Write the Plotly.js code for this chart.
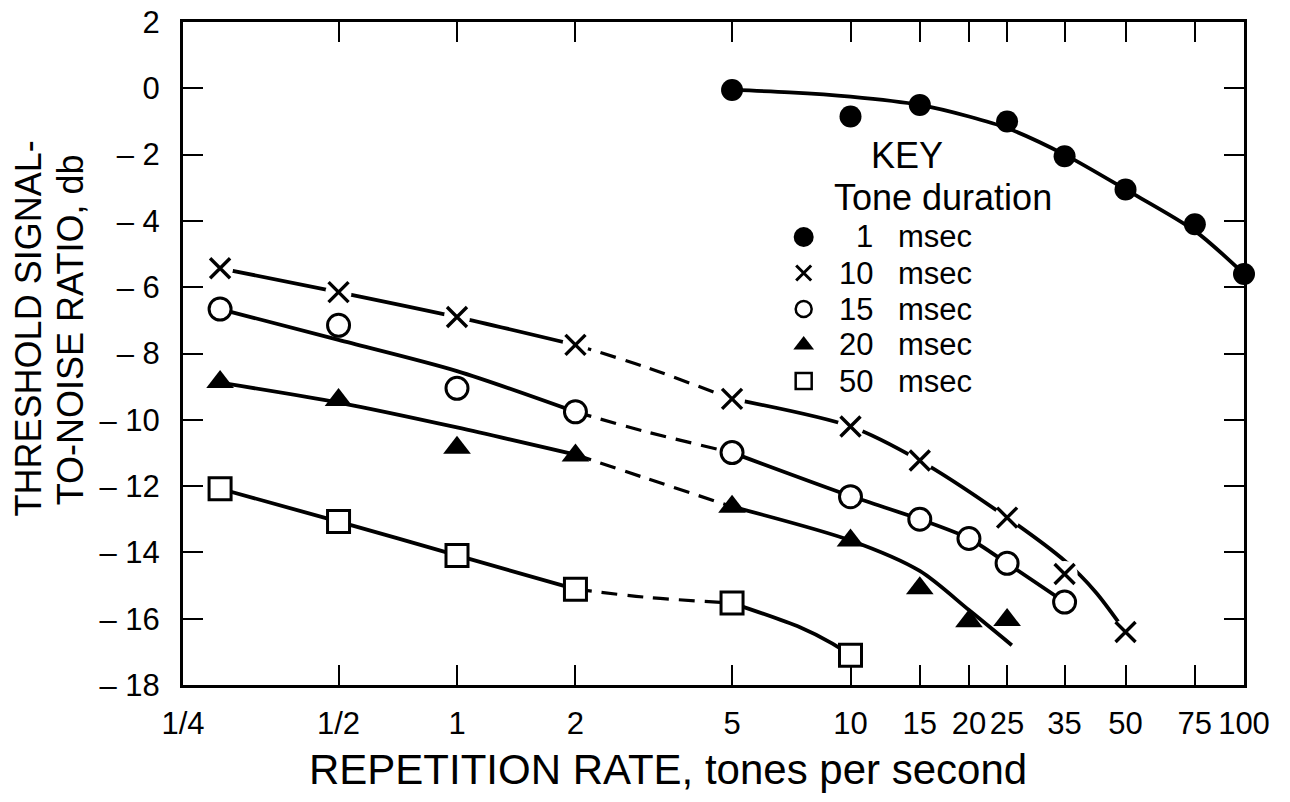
<!DOCTYPE html>
<html>
<head>
<meta charset="utf-8">
<script src="https://cdn.plot.ly/plotly-3.0.1.min.js"></script>
<style>
  html, body { margin: 0; padding: 0; background: #fff; }
  #chart { width: 1290px; height: 802px; }
</style>
</head>
<body>
<div id="chart"></div>
<script>
// ---------------- data ----------------
// Repetition rate (tones per second) and threshold S/N (db)
const rate1  = [5, 10, 15, 25, 35, 50, 75, 100];
const snr1   = [-0.05, -0.85, -0.5, -1.0, -2.05, -3.05, -4.1, -5.6];

const rate10 = [0.25, 0.5, 1, 2, 5, 10, 15, 25, 35, 50];
const snr10  = [-5.43, -6.15, -6.9, -7.74, -9.37, -10.2, -11.23, -12.95, -14.65, -16.4];

const rate15 = [0.25, 0.5, 1, 2, 5, 10, 15, 20, 25, 35];
const snr15  = [-6.66, -7.15, -9.05, -9.76, -10.99, -12.32, -13.0, -13.58, -14.33, -15.5];

const rate20 = [0.25, 0.5, 1, 2, 5, 10, 15, 20, 25];
const snr20  = [-8.86, -9.4, -10.84, -11.08, -12.62, -13.64, -15.08, -16.08, -16.04];

const rate50 = [0.25, 0.5, 1, 2, 5, 10];
const snr50  = [-12.08, -13.07, -14.09, -15.11, -15.53, -17.1];

// hand-drawn fitted curves (solid left part, dashed bridge, solid right part)
const fit1X  = [5, 7, 10, 15, 20, 25, 35, 50, 75, 100];
const fit1Y  = [-0.05, -0.12, -0.25, -0.5, -0.85, -1.2, -2.0, -3.05, -4.3, -5.6];

const fit10LX = [0.25, 0.5, 1, 2];
const fit10LY = [-5.43, -6.15, -6.9, -7.74];
const fit10DX = [2, 3, 5];
const fit10DY = [-7.74, -8.4, -9.37];
const fit10RX = [5, 10, 15, 25, 35, 42, 50];
const fit10RY = [-9.37, -10.2, -11.23, -12.95, -14.25, -15.2, -16.4];

const fit15LX = [0.25, 0.5, 1, 2];
const fit15LY = [-6.66, -7.59, -8.53, -9.76];
const fit15DX = [2, 3, 5];
const fit15DY = [-9.76, -10.35, -10.99];
const fit15RX = [5, 10, 15, 20, 25, 35];
const fit15RY = [-10.99, -12.3, -13.0, -13.58, -14.33, -15.5];

const fit20LX = [0.25, 0.5, 1, 2];
const fit20LY = [-8.88, -9.48, -10.23, -11.05];
const fit20DX = [2, 3, 5];
const fit20DY = [-11.05, -11.75, -12.62];
const fit20RX = [5, 10, 15, 20, 25.7];
const fit20RY = [-12.62, -13.64, -14.56, -15.74, -16.8];

const fit50LX = [0.25, 0.5, 1, 2];
const fit50LY = [-12.08, -13.07, -14.09, -15.11];
const fit50DX = [2, 3, 5];
const fit50DY = [-15.11, -15.35, -15.53];
const fit50RX = [5, 7.44, 9.0, 10];
const fit50RY = [-15.53, -16.26, -16.75, -17.1];

// axis ticks
const xTickLabels = ["1/4", "1/2", "1", "2", "5", "10", "15", "20", "25", "35", "50", "75", "100"];
const xTickValues = [null, 0.5, 1, 2, 5, 10, 15, 20, 25, 35, 50, 75, 100]; // first = axis start
const yTickValues = [2, 0, -2, -4, -6, -8, -10, -12, -14, -16, -18];
const yTickLabels = ["2", "0", "\u2013\u00a02", "\u2013\u00a04", "\u2013\u00a06", "\u2013\u00a08", "\u2013\u00a010",
                     "\u2013\u00a012", "\u2013\u00a014", "\u2013\u00a016", "\u2013\u00a018"];

// key
const keyNumbers = ["1", "10", "15", "20", "50"];
const keyUnit = "msec";

// ---------------- styles ----------------
const FONT = "Liberation Sans, Arial, sans-serif";
const BLACK = "#000";
const XLOG_MIN = -0.6963, XLOG_MAX = 2;
xTickValues[0] = Math.pow(10, XLOG_MIN);

const symbolStyles = [
  {symbol: "circle", size: 22, color: BLACK, line: {width: 0}},
  {symbol: "x-thin-open", size: 20, color: BLACK, line: {width: 3.4, color: BLACK}},
  {symbol: "circle", size: 22, color: "#fff", line: {width: 3, color: BLACK}},
  {symbol: "triangle-up", size: 24, color: BLACK, line: {width: 0}},
  {symbol: "square", size: 22, color: "#fff", line: {width: 3, color: BLACK}}
];
const keyStyles = [
  {symbol: "circle", size: 20, color: BLACK, line: {width: 0}},
  {symbol: "x-thin-open", size: 15, color: BLACK, line: {width: 3, color: BLACK}},
  {symbol: "circle", size: 16, color: "#fff", line: {width: 2.5, color: BLACK}},
  {symbol: "triangle-up", size: 18, color: BLACK, line: {width: 0}},
  {symbol: "square", size: 16, color: "#fff", line: {width: 2.5, color: BLACK}}
];

function curve(x, y, dash) {
  return {x: x, y: y, type: "scatter", mode: "lines", hoverinfo: "skip", showlegend: false,
          line: {color: BLACK, width: dash ? 3.2 : 3.8, shape: "spline", smoothing: 0.8,
                 dash: dash ? "16px,10px" : "solid"}};
}
function points(x, y, st) {
  return {x: x, y: y, type: "scatter", mode: "markers", showlegend: false, hoverinfo: "skip",
          cliponaxis: false,
          marker: {symbol: st.symbol, size: st.size, color: st.color, line: st.line}};
}

const traces = [
  curve(fit1X, fit1Y, false),
  curve(fit10LX, fit10LY, false), curve(fit10DX, fit10DY, true), curve(fit10RX, fit10RY, false),
  curve(fit15LX, fit15LY, false), curve(fit15DX, fit15DY, true), curve(fit15RX, fit15RY, false),
  curve(fit20LX, fit20LY, false), curve(fit20DX, fit20DY, true), curve(fit20RX, fit20RY, false),
  curve(fit50LX, fit50LY, false), curve(fit50DX, fit50DY, true), curve(fit50RX, fit50RY, false),
  // white halo behind the x markers (gaps in the line)
  points(rate10, snr10, {symbol: "circle", size: 26, color: "#fff", line: {width: 0}}),
  points(rate1, snr1, symbolStyles[0]),
  points(rate10, snr10, symbolStyles[1]),
  points(rate15, snr15, symbolStyles[2]),
  points(rate20, snr20, symbolStyles[3]),
  points(rate50, snr50, symbolStyles[4])
];

// key symbols on an invisible overlay axis (0..1 = plot area)
const PLOT_H = 663;
const keyX = 0.585, keyTop = (685 - 237) / PLOT_H, keyStep = 36 / PLOT_H;
keyNumbers.forEach((n, i) => {
  const s = keyStyles[i];
  traces.push({x: [keyX], y: [keyTop - i * keyStep], xaxis: "x2", yaxis: "y2", type: "scatter",
               mode: "markers", showlegend: false, hoverinfo: "skip", cliponaxis: false,
               marker: {symbol: s.symbol, size: s.size, color: s.color, line: s.line}});
});

const annotations = [
  {text: "THRESHOLD SIGNAL-", textangle: -90, x: -0.1460, y: 0.538, xref: "paper", yref: "paper",
   showarrow: false, font: {family: FONT, size: 36, color: BLACK}, xanchor: "center", yanchor: "middle"},
  {text: "TO-NOISE RATIO, db", textangle: -90, x: -0.1065, y: 0.535, xref: "paper", yref: "paper",
   showarrow: false, font: {family: FONT, size: 36, color: BLACK}, xanchor: "center", yanchor: "middle"},
  {text: "REPETITION RATE, tones per second", x: 0.457, y: -0.128, xref: "paper", yref: "paper",
   showarrow: false, font: {family: FONT, size: 42, color: BLACK}, xanchor: "center", yanchor: "middle"},
  {text: "KEY", x: 0.682, y: (685 - 156) / PLOT_H, xref: "paper", yref: "paper", showarrow: false,
   font: {family: FONT, size: 36, color: BLACK}, xanchor: "center", yanchor: "middle"},
  {text: "Tone duration", x: 0.716, y: (685 - 197.5) / PLOT_H, xref: "paper", yref: "paper", showarrow: false,
   font: {family: FONT, size: 36, color: BLACK}, xanchor: "center", yanchor: "middle"}
];
keyNumbers.forEach((n, i) => {
  const yy = keyTop - i * keyStep;
  annotations.push({text: n, x: 0.652, y: yy, xref: "paper", yref: "paper", showarrow: false,
    font: {family: FONT, size: 31, color: BLACK}, xanchor: "right", yanchor: "middle"});
  annotations.push({text: keyUnit, x: 0.672, y: yy, xref: "paper", yref: "paper", showarrow: false,
    font: {family: FONT, size: 31, color: BLACK}, xanchor: "left", yanchor: "middle"});
});

const layout = {
  width: 1290, height: 802,
  margin: {l: 183, r: 46, t: 22, b: 117, pad: 0},
  paper_bgcolor: "#fff", plot_bgcolor: "#fff",
  showlegend: false,
  font: {family: FONT, color: BLACK},
  xaxis: {
    type: "log", range: [XLOG_MIN, XLOG_MAX], showgrid: false, zeroline: false,
    showline: true, linecolor: BLACK, linewidth: 3, mirror: "ticks",
    ticks: "inside", ticklen: 20, tickwidth: 2, tickcolor: BLACK,
    tickmode: "array", tickvals: xTickValues, ticktext: xTickLabels,
    tickfont: {family: FONT, size: 31, color: BLACK}, ticklabelstandoff: 9
  },
  yaxis: {
    range: [-18, 2], showgrid: false, zeroline: false,
    showline: true, linecolor: BLACK, linewidth: 3, mirror: "ticks",
    ticks: "inside", ticklen: 20, tickwidth: 2, tickcolor: BLACK,
    tickmode: "array", tickvals: yTickValues, ticktext: yTickLabels,
    tickfont: {family: FONT, size: 31, color: BLACK}, ticklabelstandoff: 14
  },
  xaxis2: {overlaying: "x", range: [0, 1], visible: false, fixedrange: true},
  yaxis2: {overlaying: "y", range: [0, 1], visible: false, fixedrange: true},
  annotations: annotations
};

Plotly.newPlot("chart", traces, layout, {staticPlot: true, displayModeBar: false});
</script>
</body>
</html>
